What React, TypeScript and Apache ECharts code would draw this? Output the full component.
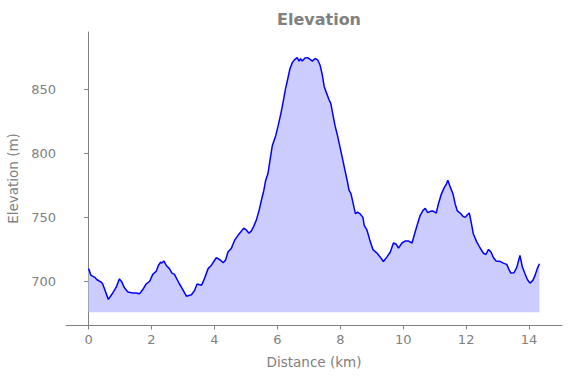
import React, { useEffect, useRef } from "react";
import * as echarts from "echarts";

const distanceKm: number[] = [
  0.0, 0.08, 0.19, 0.27, 0.4, 0.45, 0.63, 0.77, 0.88, 0.98, 1.06, 1.14, 1.25, 1.41, 1.51, 1.62, 1.72, 1.83, 1.94,
  2.04, 2.15, 2.22, 2.29, 2.33, 2.39, 2.47, 2.57, 2.65, 2.73, 2.89, 2.95, 3.11, 3.27, 3.37, 3.45, 3.59, 3.66, 3.8,
  3.9, 4.06, 4.17, 4.28, 4.36, 4.43, 4.54, 4.64, 4.75, 4.86, 4.93, 5.02, 5.1, 5.17, 5.25, 5.33, 5.42, 5.49, 5.57,
  5.63, 5.7, 5.77, 5.84, 5.95, 6.03, 6.12, 6.19, 6.26, 6.33, 6.4, 6.48, 6.56, 6.63, 6.69, 6.74, 6.79, 6.88, 6.96,
  7.04, 7.11, 7.2, 7.28, 7.36, 7.43, 7.49, 7.57, 7.64, 7.7, 7.76, 7.83, 7.91, 7.99, 8.06, 8.15, 8.23, 8.28, 8.34,
  8.41, 8.48, 8.55, 8.62, 8.72, 8.76, 8.85, 8.93, 9.04, 9.17, 9.27, 9.37, 9.48, 9.59, 9.69, 9.78, 9.85, 9.96, 10.06,
  10.17, 10.28, 10.35, 10.44, 10.54, 10.63, 10.7, 10.78, 10.86, 10.94, 11.05, 11.12, 11.21, 11.3, 11.37, 11.42,
  11.49, 11.58, 11.65, 11.72, 11.81, 11.9, 11.97, 12.04, 12.1, 12.16, 12.23, 12.34, 12.44, 12.55, 12.63, 12.71,
  12.79, 12.87, 12.95, 13.08, 13.18, 13.29, 13.35, 13.42, 13.52, 13.61, 13.71, 13.79, 13.87, 13.95, 14.03, 14.12,
  14.19, 14.26, 14.33,
];

const elevationM: number[] = [
  710, 704.7, 703.4, 701.3, 699.5, 698, 686, 691, 695.5, 702, 699.5, 695, 691.7, 691, 691, 690.4, 693.5, 698, 700,
  705.5, 708, 712.5, 715, 714.3, 716, 712.5, 710, 706.5, 705.5, 698, 695.5, 688.5, 689.6, 693, 698, 697, 700.8, 710,
  712.5, 718.5, 717, 714.6, 717, 723, 726, 732, 736, 739.3, 741.6, 740, 737.7, 739.3, 743, 747.7, 755.5, 763, 771,
  779, 784, 795, 806, 814, 822, 832, 841, 850.5, 858, 866, 871, 873.4, 874.7, 872, 874, 872, 874.5, 874.7,
  873.4, 872, 874, 873, 868.7, 861, 852, 846.6, 842, 838.8, 831, 822, 814, 805, 797, 786.7, 777.6, 771, 768.5,
  760.7, 753, 754, 753, 750, 743.7, 740, 733, 724.8, 722, 719, 715.6, 719, 723, 730, 729, 726, 730, 731.5,
  731.5, 730, 736, 743.7, 751.6, 755.5, 757, 753.7, 754.7, 755, 753.4, 760.7, 768, 773, 776, 779,
  774, 768.5, 760.7, 755, 753.4, 750.8, 750, 752, 753.4, 746.3, 737, 730.7, 726.3, 722, 721, 725,
  723, 718.5, 716, 715.6, 714.3, 713.3, 710, 706.5, 706.8, 711, 720.3, 711, 706, 701.3, 698.7, 700.8,
  704.7, 710, 713.8,
];

const xTicks: number[] = [0, 2, 4, 6, 8, 10, 12, 14];
const yTicks: number[] = [700, 750, 800, 850];

const TEXT = "#808080";
const FONT = "DejaVu Sans";

export default function App() {
  const ref = useRef<HTMLDivElement>(null);
  useEffect(() => {
    if (!ref.current) return;
    const chart = echarts.init(ref.current, null, { renderer: "svg" });
    const minE = Math.min(...elevationM);
    const maxE = Math.max(...elevationM);
    const lastX = distanceKm[distanceKm.length - 1];
    const span = lastX - distanceKm[0];
    const data = distanceKm.map((d, i) => [d, elevationM[i]]);
    chart.setOption({
      animation: false,
      title: {
        text: "Elevation",
        left: 314,
        top: 6,
        textAlign: "center",
        textStyle: { color: TEXT, fontWeight: "bold", fontSize: 16, fontFamily: FONT },
      },
      grid: { left: 66, right: 9, top: 32, bottom: 53, containLabel: false, outerBoundsMode: "none" },
      xAxis: {
        type: "value",
        min: distanceKm[0] - 0.05 * span,
        max: lastX + 0.05 * span,
        name: "Distance (km)",
        nameLocation: "middle",
        nameGap: 30,
        nameTextStyle: { color: TEXT, fontSize: 13.5, fontFamily: FONT },
        axisLine: { show: true, lineStyle: { color: TEXT, width: 1 } },
        axisTick: { show: true, customValues: xTicks, length: 4.5, lineStyle: { color: TEXT } },
        axisLabel: { customValues: xTicks, color: TEXT, fontSize: 13, fontFamily: FONT, margin: 8 },
        splitLine: { show: false },
      },
      yAxis: {
        type: "value",
        min: minE - 20,
        max: maxE + 20,
        name: "Elevation (m)",
        nameLocation: "middle",
        nameGap: 37,
        nameTextStyle: { color: TEXT, fontSize: 13.5, fontFamily: FONT },
        axisLine: { show: true, lineStyle: { color: TEXT, width: 1 } },
        axisTick: { show: true, customValues: yTicks, length: 4.5, lineStyle: { color: TEXT } },
        axisLabel: { customValues: yTicks, color: TEXT, fontSize: 13, fontFamily: FONT, margin: 10 },
        splitLine: { show: false },
      },
      series: [
        {
          type: "line",
          data,
          showSymbol: false,
          smooth: false,
          lineStyle: { color: "#0000ff", width: 1.5 },
          itemStyle: { color: "#0000ff" },
          areaStyle: { color: "#ccccff", opacity: 1, origin: minE - 10 },
          z: 2,
        },
      ],
    });
    return () => chart.dispose();
  }, []);
  return (
    <div
      ref={ref}
      style={{ position: "fixed", left: 0, top: 0, width: 571, height: 378, background: "#fff" }}
    />
  );
}
